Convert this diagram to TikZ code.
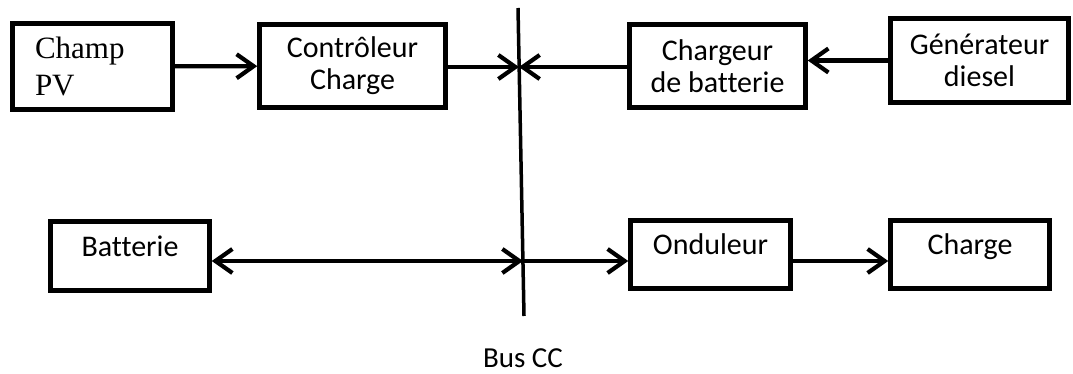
\documentclass[tikz,border=0pt]{standalone}
\usepackage{fontspec}
\setmainfont{Carlito}[Ligatures=NoCommon]
\newfontfamily\pvfont{Liberation Serif}
\usepackage{tikz}
\usetikzlibrary{positioning, arrows.meta}
\tikzset{
  block/.style   ={rectangle, draw=black, line width=4.5pt, fill=white,
                   inner sep=2pt, align=center, font=\fontsize{30}{32}\selectfont},
  pvblock/.style ={block, align=left, text width=115pt,
                   font=\pvfont\fontsize{31}{37}\selectfont},
  lowblock/.style={block, text height=19pt, text depth=19pt},
  arr/.style     ={-{Straight Barb[length=17pt, width=24pt]}, line width=4.2pt},
  dblarr/.style  ={{Straight Barb[length=17pt, width=24pt]}-{Straight Barb[length=17pt, width=24pt]}, line width=4.2pt},
  busline/.style ={line width=3.5pt},
  buslabel/.style={inner sep=0pt, font=\fontsize{29}{32}\selectfont},
}
\begin{document}
\begin{tikzpicture}[x=1pt, y=-1pt]
\useasboundingbox (0,0) rectangle (1073,374);
% top row
\node[pvblock, minimum width=160pt, minimum height=86pt] (champ) at (92.5,66.5) {Champ\\PV};
\node[block, minimum width=186pt, minimum height=83pt] (ctrl) at (352.5,66) {Contrôleur\\Charge};
\node[block, minimum width=176pt, minimum height=83pt] (chg) at (717.5,66) {Chargeur\\de batterie};
\node[block, minimum width=178pt, minimum height=84pt] (gen) at (979.5,60.5) {Générateur\\diesel};
% bottom row
\node[lowblock, minimum width=159pt, minimum height=69pt] (bat) at (130,256) {Batterie};
\node[lowblock, minimum width=160pt, minimum height=68pt] (ond) at (710.5,254.5) {Onduleur};
\node[lowblock, minimum width=159pt, minimum height=68pt] (load) at (970,254.5) {Charge};
% bus
\coordinate (bustop) at (518,8);
\coordinate (busbot) at (524,316);
\coordinate (busA) at (519,67);
\coordinate (busB) at (523,261);
\draw[busline] (bustop) -- (busbot);
\node[buslabel] (buscc) at (523,358) {Bus CC};
% connectors
\draw[arr] (champ) -- (ctrl);
\draw[arr] (ctrl.east |- busA) -- (busA);
\draw[arr] (chg.west |- busA) -- (busA);
\draw[arr] (gen) -- (chg.east |- gen);
\draw[dblarr] (bat.east |- busB) -- (busB);
\draw[arr] (busB) -- (ond.west |- busB);
\draw[arr] (ond.east |- busB) -- (load.west |- busB);
\end{tikzpicture}
\end{document}
